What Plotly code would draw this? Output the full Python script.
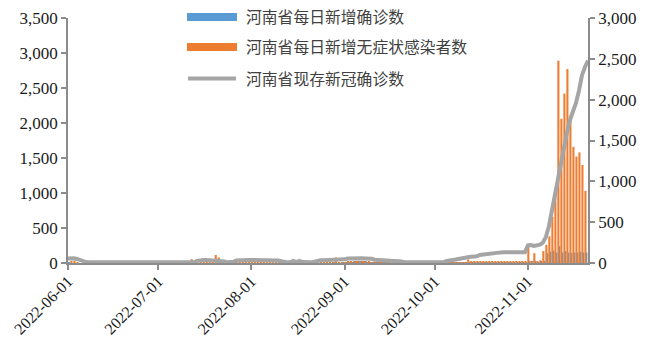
import pandas as pd
import plotly.graph_objects as go

# Daily series for Henan province, 2022-06-01 .. 2022-11-21
dates = pd.date_range("2022-06-01", "2022-11-21", freq="D")

# 河南省每日新增确诊数 (daily new confirmed cases)
confirmed_jun = [30, 8, 0, 0, 0, 0, 0, 0, 0, 0, 0, 0, 0, 0, 0, 0, 0, 0, 0, 0,
                 0, 0, 0, 0, 0, 0, 0, 0, 0, 0]
confirmed_jul = [0, 0, 0, 0, 0, 0, 0, 0, 0, 0, 0, 0, 0, 0, 0, 0, 0, 0, 0, 0,
                 0, 0, 0, 0, 0, 0, 0, 0, 0, 0, 0]
confirmed_aug = [0, 0, 0, 0, 0, 0, 0, 0, 0, 0, 0, 0, 0, 0, 0, 0, 0, 0, 0, 0,
                 0, 0, 0, 0, 0, 0, 0, 0, 5, 0, 0]
confirmed_sep = [4, 8, 12, 10, 15, 18, 24, 26, 14, 10, 5, 3, 2, 2, 1, 1, 0, 0, 0, 0,
                 0, 0, 0, 0, 0, 0, 0, 0, 0, 0]
confirmed_oct = [0, 0, 0, 0, 1, 2, 2, 3, 4, 5, 6, 8, 10, 8, 9, 10, 8, 9, 10, 8,
                 9, 10, 8, 10, 9, 8, 10, 9, 8, 10, 9]
confirmed_nov = [10, 30, 20, 30, 10, 20, 30, 140, 160, 176, 150, 240, 150, 170, 150,
                 145, 150, 150, 160, 150, 150]

# 河南省每日新增无症状感染者数 (daily new asymptomatic infections)
asym_jun = [0, 30, 35, 8, 0, 0, 0, 0, 0, 0, 0, 0, 0, 0, 0, 0, 0, 0, 0, 0,
            0, 0, 0, 0, 0, 0, 0, 0, 0, 0]
asym_jul = [0, 0, 0, 0, 0, 0, 0, 0, 0, 0, 0, 55, 0, 0, 40, 8, 5, 6, 10, 115,
            80, 15, 10, 5, 0, 3, 5, 4, 6, 3, 5]
asym_aug = [3, 2, 2, 2, 3, 2, 2, 2, 2, 3, 2, 0, 0, 0, 5, 3, 4, 2, 0, 0,
            0, 0, 5, 6, 8, 6, 5, 8, 80, 10, 12]
asym_sep = [12, 18, 22, 20, 25, 18, 15, 20, 16, 12, 8, 6, 5, 5, 4, 3, 3, 2, 2, 0,
            0, 0, 0, 0, 0, 0, 0, 0, 0, 0]
asym_oct = [0, 0, 0, 0, 2, 3, 4, 5, 8, 10, 12, 50, 18, 20, 22, 18, 20, 22, 24, 20,
            18, 22, 20, 24, 18, 20, 22, 20, 24, 22, 20]
asym_nov = [270, 30, 140, 20, 40, 170, 260, 380, 660, 1060, 2890, 2060, 2420, 2770,
            2110, 1660, 1520, 1580, 1400, 1030, None]

# 河南省现存新冠确诊数 (current confirmed cases, right axis)
current_jun = [55, 58, 57, 50, 36, 20, 12, 9, 8, 8, 8, 8, 8, 8, 8, 8, 8, 8, 8, 8,
               8, 8, 8, 8, 8, 8, 8, 8, 8, 8]
current_jul = [8, 8, 8, 8, 8, 8, 8, 8, 8, 8, 8, 8, 12, 25, 35, 38, 38, 36, 36, 35,
               33, 30, 20, 10, 8, 15, 30, 34, 36, 36, 36]
current_aug = [36, 36, 35, 35, 35, 34, 34, 34, 33, 32, 22, 12, 8, 10, 25, 12, 25, 12, 8, 8,
               8, 15, 30, 34, 35, 35, 36, 36, 36, 38, 40]
current_sep = [45, 55, 58, 60, 60, 58, 58, 56, 55, 52, 40, 38, 36, 36, 35, 35, 34, 33, 30, 18,
               8, 8, 8, 8, 8, 8, 8, 8, 8, 8]
current_oct = [8, 8, 8, 10, 25, 35, 38, 42, 52, 57, 60, 70, 76, 78, 82, 98, 104, 106, 110, 122,
               128, 130, 130, 131, 131, 131, 131, 131, 130, 131, 132]
current_nov = [215, 220, 210, 215, 225, 250, 320, 450, 640, 860, 1060, 1270, 1440, 1600,
               1750, 1850, 1960, 2110, 2300, 2400, 2480]

confirmed = confirmed_jun + confirmed_jul + confirmed_aug + confirmed_sep + confirmed_oct + confirmed_nov
asymptomatic = asym_jun + asym_jul + asym_aug + asym_sep + asym_oct + asym_nov
current = current_jun + current_jul + current_aug + current_sep + current_oct + current_nov

series_names = ["河南省每日新增确诊数", "河南省每日新增无症状感染者数", "河南省现存新冠确诊数"]
month_ticks = ["2022-06-01", "2022-07-01", "2022-08-01", "2022-09-01", "2022-10-01", "2022-11-01"]

BLUE, ORANGE, GREY = "#5B9BD5", "#ED7D31", "#A5A5A5"
AXIS = "#8C8C8C"
DAY_MS = 86400000

fig = go.Figure()
fig.add_trace(go.Bar(x=dates, y=confirmed, name=series_names[0], marker_color=BLUE,
                     marker_line_width=0, width=0.65 * DAY_MS, offset=-0.85 * DAY_MS,
                     yaxis="y", showlegend=False))
fig.add_trace(go.Bar(x=dates, y=asymptomatic, name=series_names[1], marker_color=ORANGE,
                     marker_line_width=0, width=0.7 * DAY_MS, offset=-0.2 * DAY_MS,
                     yaxis="y", showlegend=False))
fig.add_trace(go.Scatter(x=dates, y=current, name=series_names[2], mode="lines",
                         line=dict(color=GREY, width=4), yaxis="y2", showlegend=False))

serif = "Liberation Serif"
y_tick_font = dict(family=serif, size=17, color="#1a1a1a")
x_tick_font = dict(family=serif, size=16, color="#1a1a1a")

# plot-area geometry in pixels, used for placing the legend
W, H = 657, 338
L, R, T, B = 68, 69, 18, 75
PW, PH = W - L - R, H - T - B


def px_x(x):
    return (x - L) / PW


def px_y(y):
    return (H - B - y) / PH


shapes = []
annotations = []
legend_rows = [(17, BLUE, "bar"), (47, ORANGE, "bar"), (78.5, GREY, "line")]
for (yc, col, kind), label in zip(legend_rows, series_names):
    if kind == "bar":
        shapes.append(dict(type="rect", xref="paper", yref="paper",
                           x0=px_x(187), x1=px_x(237), y0=px_y(yc + 4), y1=px_y(yc - 4),
                           fillcolor=col, line_width=0, layer="above"))
    else:
        shapes.append(dict(type="line", xref="paper", yref="paper",
                           x0=px_x(188), x1=px_x(236), y0=px_y(yc), y1=px_y(yc),
                           line=dict(color=col, width=4), layer="above"))
    annotations.append(dict(text=label, xref="paper", yref="paper", x=px_x(244), y=px_y(yc),
                            xanchor="left", yanchor="middle", showarrow=False,
                            font=dict(family="Noto Sans CJK SC", size=15.8, color="#404040")))

axis_style = dict(showline=True, linecolor=AXIS, linewidth=1.5,
                  ticks="outside", ticklen=5, tickcolor=AXIS, tickwidth=1.5,
                  showgrid=False, zeroline=False, automargin=False)

fig.update_layout(
    width=W, height=H,
    margin=dict(l=L, r=R, t=T, b=B, autoexpand=False),
    paper_bgcolor="white", plot_bgcolor="white",
    barmode="overlay",
    shapes=shapes, annotations=annotations,
    xaxis=dict(type="date", range=["2022-06-01", "2022-11-21"],
               tickvals=month_ticks, ticktext=month_ticks, tickangle=-45,
               ticklabelstandoff=-4, tickfont=x_tick_font, **axis_style),
    yaxis=dict(range=[0, 3500], dtick=500, tickformat=",d", tickfont=y_tick_font,
               **axis_style),
    yaxis2=dict(range=[0, 3000], dtick=500, tickformat=",d", overlaying="y", side="right",
                tickfont=y_tick_font, **axis_style),
)

fig.write_html("out.html")
